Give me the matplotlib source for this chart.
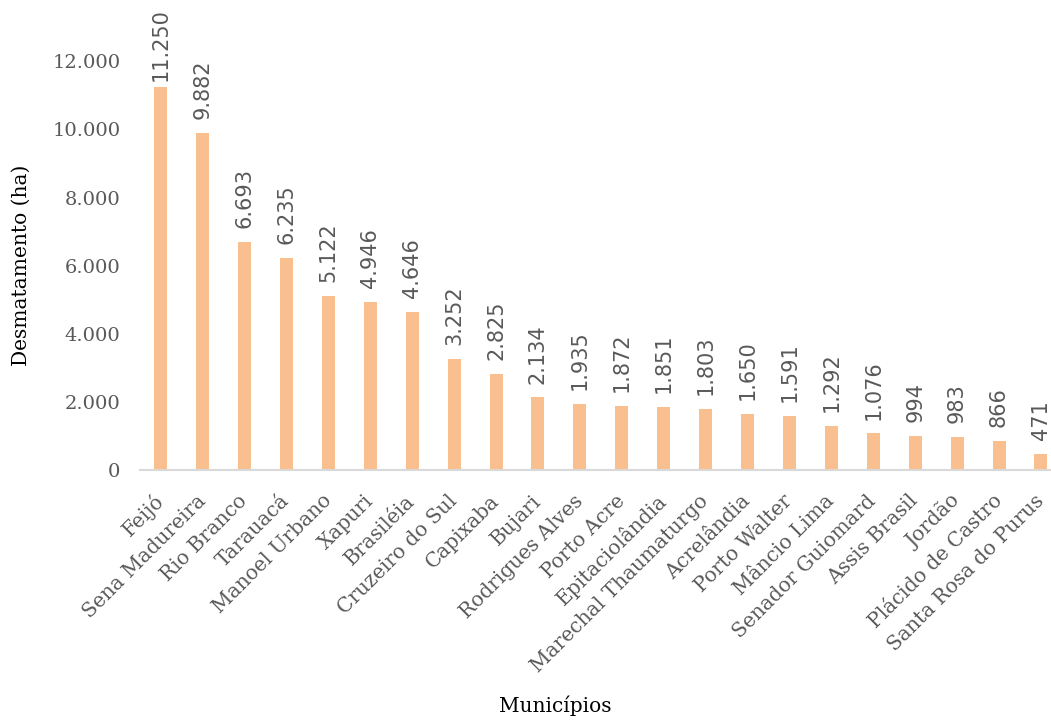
import numpy as np
import matplotlib.pyplot as plt

municipios = ["Feijó", "Sena Madureira", "Rio Branco", "Tarauacá", "Manoel Urbano",
              "Xapuri", "Brasiléia", "Cruzeiro do Sul", "Capixaba", "Bujari",
              "Rodrigues Alves", "Porto Acre", "Epitaciolândia", "Marechal Thaumaturgo",
              "Acrelândia", "Porto Walter", "Mâncio Lima", "Senador Guiomard",
              "Assis Brasil", "Jordão", "Plácido de Castro", "Santa Rosa do Purus"]
desmatamento = [11250, 9882, 6693, 6235, 5122, 4946, 4646, 3252, 2825, 2134,
                1935, 1872, 1851, 1803, 1650, 1591, 1292, 1076, 994, 983, 866, 471]
y_ticks = [0, 2000, 4000, 6000, 8000, 10000, 12000]

def fmt(v):
    return f"{v:,}".replace(",", ".")

serif = ["DejaVu Serif"]

fig = plt.figure(figsize=(10.51, 7.2), dpi=100)
ax = fig.add_axes([0.133, 0.347, 0.867, 0.639])

x = np.arange(len(municipios))
bars = ax.bar(x, desmatamento, width=0.31, color="#F9BF8F")

for i, v in enumerate(desmatamento):
    # o primeiro rótulo fica mais perto da barra para caber na figura
    off = 4 if i == 0 else 10
    ax.annotate(fmt(v), (x[i], v), xytext=(0, off), textcoords="offset points",
                rotation=90, ha="center", va="bottom", fontsize=15,
                color="#595959", family="DejaVu Sans")

ax.set_xlim(-0.5, 21.24)
ax.set_ylim(0, 13500)
ax.set_yticks(y_ticks)
ax.set_yticklabels([fmt(t) for t in y_ticks], family=serif, fontsize=14, color="#595959")
ax.set_xticks(x)
ax.set_xticklabels(municipios, rotation=45, ha="right", va="center", rotation_mode="anchor",
                   family=serif, fontsize=14.5, color="#595959")
ax.tick_params(axis="both", length=0)
ax.tick_params(axis="y", pad=14)
ax.tick_params(axis="x", pad=20)

for s in ["top", "right", "left"]:
    ax.spines[s].set_visible(False)
ax.spines["bottom"].set_color("#D9D9D9")
ax.spines["bottom"].set_linewidth(1.5)

fig.text(0.528, 0.006, "Municípios", ha="center", va="bottom", family=serif, fontsize=14.5)
fig.text(0.02, 0.632, "Desmatamento (ha)", rotation=90, ha="center", va="center",
         family=serif, fontsize=14.5)

fig.savefig("out.png", dpi=100)
